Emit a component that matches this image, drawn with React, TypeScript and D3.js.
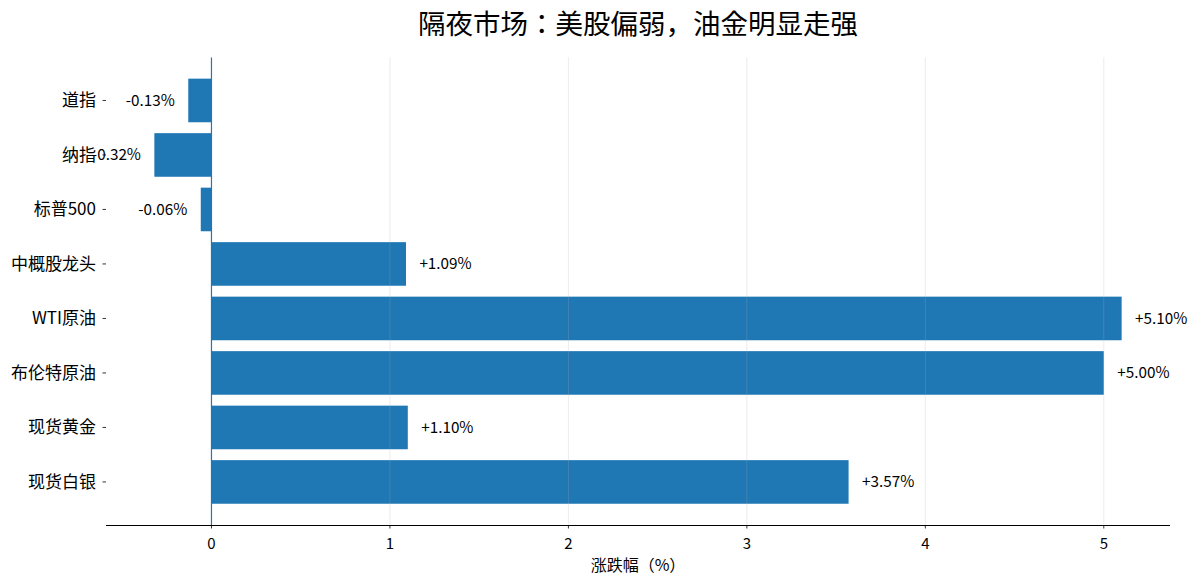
import React from "react";
import * as d3 from "d3";

const categories = ["道指", "纳指", "标普500", "中概股龙头", "WTI原油", "布伦特原油", "现货黄金", "现货白银"];
const values = [-0.13, -0.32, -0.06, 1.09, 5.1, 5.0, 1.1, 3.57];
const xTicks = [0, 1, 2, 3, 4, 5];
const title = "隔夜市场：美股偏弱，油金明显走强";
const xLabel = "涨跌幅（%）";

const W = 1200;
const H = 586;
const left = 106;
const right = 1170;
const top = 57.4;
const bottom = 525;
const FONT = "'Noto Sans CJK JP', 'Noto Sans CJK SC', 'Noto Sans', sans-serif";
const BLUE = "#1f77b4";

export default function App() {
  const x = d3.scaleLinear().domain([-0.591, 5.371]).range([left, right]);
  const y = d3.scaleLinear().domain([-0.79, 7.79]).range([top, bottom]);
  const barH = y(0.4) - y(-0.4);
  const fmt = (v: number) => (v > 0 ? "+" : "") + v.toFixed(2) + "%";
  return (
    <svg width={W} height={H} style={{ position: "absolute", left: 0, top: 0, background: "#fff" }} fontFamily={FONT}>
      <text x={(left + right) / 2} y={34} textAnchor="middle" fontSize={27.5} fill="#000">{title}</text>
      {values.map((v, i) => (
        <rect key={i} x={x(Math.min(0, v))} y={y(i) - barH / 2} width={Math.abs(x(v) - x(0))} height={barH} fill={BLUE} />
      ))}
      {xTicks.map((t) => (
        <line key={t} x1={x(t)} x2={x(t)} y1={top} y2={bottom} stroke="#b0b0b0" strokeOpacity={0.3} strokeWidth={0.8} />
      ))}
      <line x1={x(0)} x2={x(0)} y1={top} y2={bottom} stroke={BLUE} strokeWidth={1.2} />
      {values.map((v, i) => (
        <text key={"v" + i} x={v >= 0 ? x(v + 0.075) : x(v - 0.075)} y={y(i)} dy="0.35em" textAnchor={v >= 0 ? "start" : "end"} fontSize={15.3} fill="#000">{fmt(v)}</text>
      ))}
      {categories.map((c, i) => (
        <g key={"c" + i}>
          <line x1={left - 3.5} x2={left} y1={y(i)} y2={y(i)} stroke="#000" strokeWidth={0.8} />
          <text x={left - 10} y={y(i)} dy="0.35em" textAnchor="end" fontSize={17} fill="#000">{c}</text>
        </g>
      ))}
      <line x1={left} x2={right} y1={bottom + 0.5} y2={bottom + 0.5} stroke="#000" strokeWidth={1} />
      {xTicks.map((t) => (
        <g key={"t" + t}>
          <line x1={x(t)} x2={x(t)} y1={bottom} y2={bottom + 3.5} stroke="#000" strokeWidth={0.8} />
          <text x={x(t)} y={bottom + 24} textAnchor="middle" fontSize={15} fill="#000">{t}</text>
        </g>
      ))}
      <text x={(left + right) / 2} y={571} textAnchor="middle" fontSize={16} fill="#000">{xLabel}</text>
    </svg>
  );
}
